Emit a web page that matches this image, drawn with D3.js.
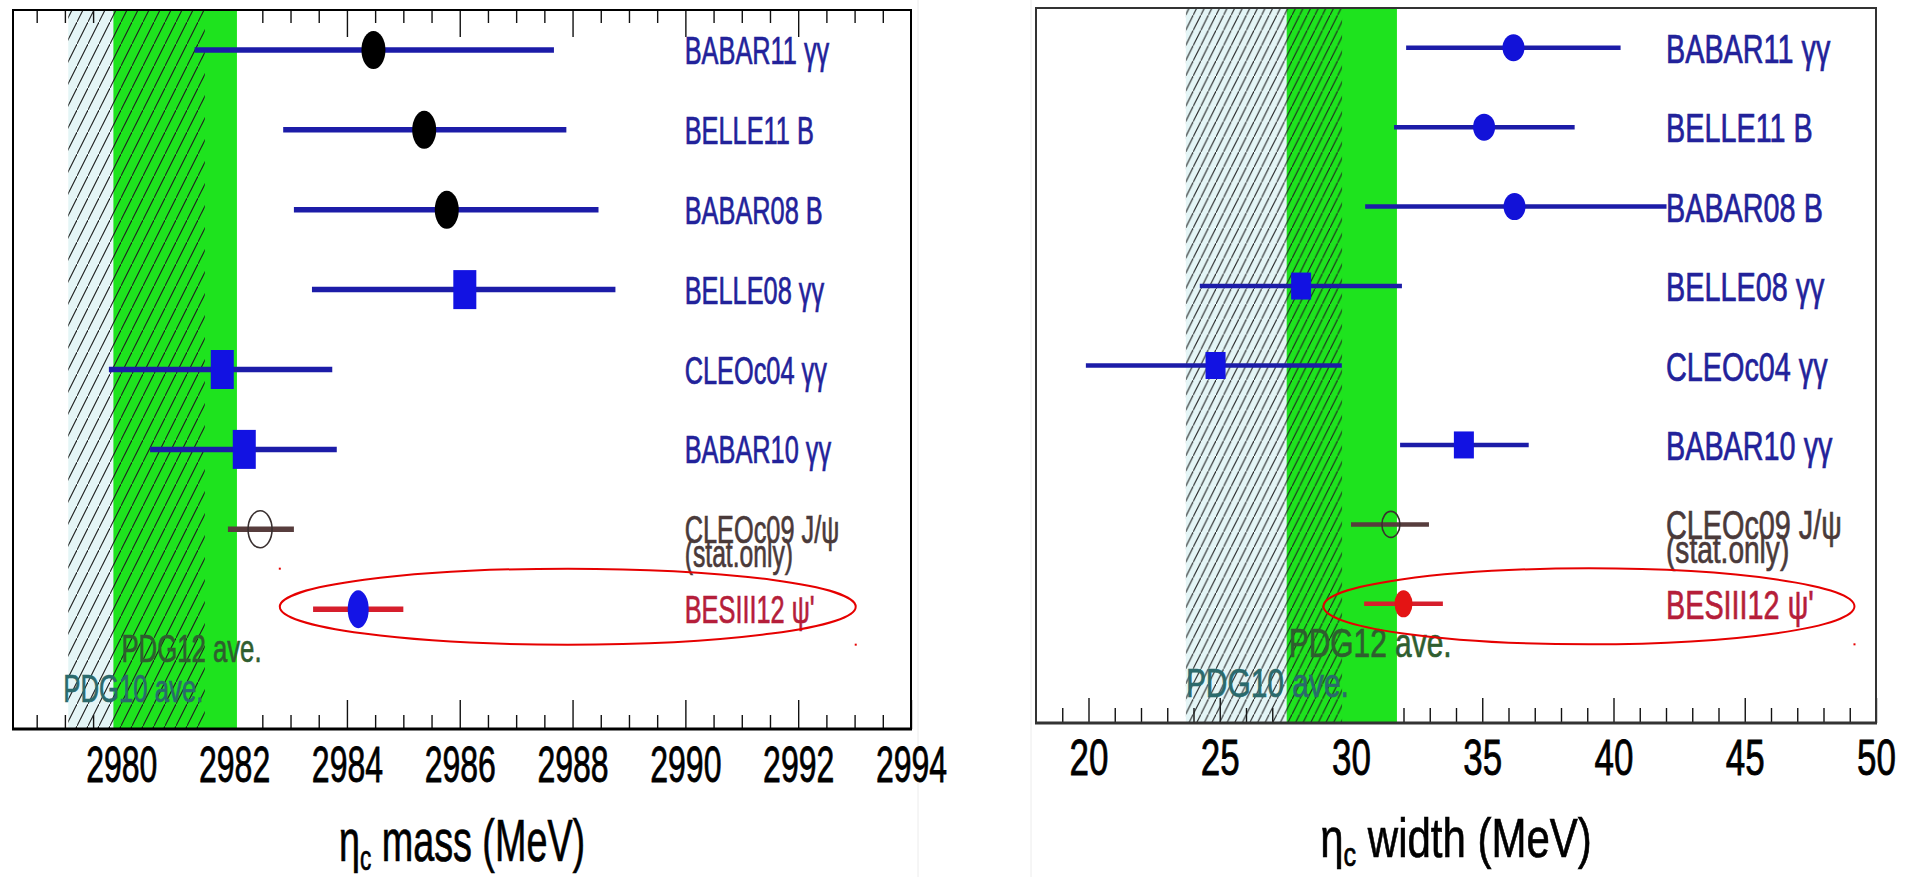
<!DOCTYPE html>
<html>
<head>
<meta charset="utf-8">
<script src="https://cdn.jsdelivr.net/npm/d3@7"></script>
<style>
  html, body { margin: 0; padding: 0; background: #fff; }
  svg { display: block; }
  text { font-family: "Liberation Sans", Arial, Helvetica, sans-serif; }
</style>
</head>
<body>
<svg id="chart" width="1910" height="877"></svg>
<script>
// ---- measurements (top row first) ----
const experiments = ["BABAR11 γγ", "BELLE11 B", "BABAR08 B", "BELLE08 γγ",
                     "CLEOc04 γγ", "BABAR10 γγ", "CLEOc09 J/ψ", "BESIII12 ψ'"];
const experimentNotes = ["", "", "", "", "", "", "(stat.only)", ""];
const markerKind = ["dot", "dot", "dot", "box", "box", "box", "open", "star"];

// eta_c mass (MeV): central value and error-bar ends
const massValue = [2984.47, 2985.37, 2985.77, 2986.09, 2981.79, 2982.18, 2982.46, 2984.2];
const massLow   = [2981.30, 2982.87, 2983.06, 2983.38, 2979.78, 2980.51, 2981.89, 2983.4];
const massHigh  = [2987.67, 2987.89, 2988.46, 2988.76, 2983.74, 2983.82, 2983.06, 2985.0];

// eta_c width (MeV)
const widthValue = [36.19, 35.07, 36.23, 28.10, 24.84, 34.30, 31.52, 32.0];
const widthLow   = [32.10, 31.64, 30.54, 24.24, 19.90, 31.87, 30.00, 30.5];
const widthHigh  = [40.27, 38.52, 42.02, 31.94, 29.65, 36.77, 32.97, 33.5];

// PDG averages (band ends)
const massPDG12  = [2979.86, 2982.05];
const massPDG10  = [2979.06, 2981.48];
const widthPDG12 = [27.55, 31.75];
const widthPDG10 = [23.71, 29.66];
const bandLabels = ["PDG12 ave.", "PDG10 ave."];

// axis ticks
const massMajorTicks  = [2980, 2982, 2984, 2986, 2988, 2990, 2992, 2994];
const massMinorTicks  = d3.range(2978.5, 2994.01, 0.5);
const widthMajorTicks = [20, 25, 30, 35, 40, 45, 50];
const widthMinorTicks = d3.range(19, 50.01, 1);

const massTitle  = ["η", "c", " mass (MeV)"];
const widthTitle = ["η", "c", " width (MeV)"];

// ---- styling ----
const C = {
  bar: "#1c1ca8", box: "#1212e2", label: "#22229a",
  cleoBar: "#573d3d", cleoLabel: "#4a3a3a",
  besBar: "#d61e2c", besLabel: "#b51e3a",
  green: "#1ee31e", hatchBg: "#e4f5f6", hatchLine: "#1e1e1e",
  pdg12: "#2f5e2f", pdg10: "#2b6a6c", ring: "#e60000"
};

const svg = d3.select("#chart");
const defs = svg.append("defs");
// diagonal hatching, one pattern per line spacing
function hatchPattern(id, w) {
  const h = 2 * w;
  const pat = defs.append("pattern").attr("id", id)
    .attr("patternUnits", "userSpaceOnUse").attr("width", w).attr("height", h);
  pat.append("path").attr("d", `M${-w / 4},${h + h / 4} L${w + w / 4},${-h / 4}`)
    .attr("stroke", C.hatchLine).attr("stroke-width", 1.05).attr("fill", "none");
}
hatchPattern("hatchL", 11);
hatchPattern("hatchR", 7.6);

// faint canvas edges
[918, 1031].forEach(xx => svg.append("line").attr("x1", xx).attr("x2", xx)
  .attr("y1", 0).attr("y2", 877).attr("stroke", "#ececec").attr("stroke-width", 1));

// condensed text, with a hairline outline in its own colour
function ctext(parent, x, y, k, size, color) {
  return parent.append("text")
    .attr("transform", `translate(${x},${y}) scale(${k},1)`)
    .style("font-size", size + "px")
    .attr("fill", color).attr("stroke", color).attr("stroke-width", 0.7);
}

const panels = [
  {
    x0: 13, x1: 911, top: 10, bottom: 729,
    domain: [2978.08, 2994],
    value: massValue, low: massLow, high: massHigh,
    pdg12: massPDG12, pdg10: massPDG10, hatch: "hatchL",
    major: massMajorTicks, minor: massMinorTicks,
    title: massTitle, titleY: 861, titleSize: 59, titleK: 0.64,
    tickLabelY: 53, tickSize: 50, tickK: 0.64,
    majorLen: 29, minorLen: 14, topTicks: true,
    barW: 5.5, dotFill: "#000", starFill: "#1414e6",
    dot: [12, 19], box: [23, 39], open: [12, 18.5], star: [10.5, 19],
    labelFrac: 0.748, labelDy: 14, labelSize: 39, labelK: 0.65,
    pdgSize: 39, pdgK: 0.66, pdg12Dx: 8, pdg12Dy: 67, pdg10Dx: -5, pdg10Dy: 27,
    ring: [2982.81, 2993.02], ringDy: -2.5, ringRy: 38, frameColor: "#000",
    cornerDots: true
  },
  {
    x0: 1036, x1: 1876, top: 8, bottom: 723,
    domain: [18, 50],
    value: widthValue, low: widthLow, high: widthHigh,
    pdg12: widthPDG12, pdg10: widthPDG10, hatch: "hatchR",
    major: widthMajorTicks, minor: widthMinorTicks,
    title: widthTitle, titleY: 857, titleSize: 56, titleK: 0.75,
    tickLabelY: 52, tickSize: 50, tickK: 0.7,
    majorLen: 25, minorLen: 15, topTicks: false,
    barW: 4.5, dotFill: "#1212d8", starFill: "#e41414",
    dot: [11, 13.5], box: [20, 27], open: [9, 13], star: [9, 13.5],
    labelFrac: 0.75, labelDy: 15, labelSize: 40, labelK: 0.72,
    pdgSize: 41, pdgK: 0.73, pdg12Dx: 2, pdg12Dy: 66, pdg10Dx: 0, pdg10Dy: 26,
    ring: [28.95, 49.18], ringDy: 2.5, ringRy: 38, frameColor: "#333",
    cornerDots: false
  }
];

panels.forEach(p => {
  const g = svg.append("g");
  const x = d3.scaleLinear().domain(p.domain).range([p.x0, p.x1]);
  const y = d3.scaleLinear().domain([0, 9]).range([p.bottom, p.top]);
  const rowY = i => y(8.5 - i);

  // PDG10 band background
  g.append("rect").attr("x", x(p.pdg10[0])).attr("width", x(p.pdg10[1]) - x(p.pdg10[0]))
    .attr("y", p.top).attr("height", p.bottom - p.top).attr("fill", C.hatchBg);

  // ticks
  const minorOnly = p.minor.filter(v => !p.major.some(m => Math.abs(m - v) < 1e-6));
  const styleAxis = sel => {
    sel.attr("font-family", null).attr("font-size", null);
    sel.select(".domain").remove();
    sel.selectAll("line").attr("stroke", "#111").attr("stroke-width", 1.4);
  };
  const ax = g.append("g").attr("transform", `translate(0,${p.bottom})`)
    .call(d3.axisBottom(x).tickValues(p.major).tickSize(-p.majorLen).tickFormat(d3.format("d")))
    .call(styleAxis);
  ax.selectAll("text").attr("y", p.tickLabelY).attr("dy", null)
    .attr("transform", `scale(${p.tickK},1)`).attr("fill", "#000")
    .attr("stroke", "#000").attr("stroke-width", 0.8)
    .style("font-size", p.tickSize + "px");
  g.append("g").attr("transform", `translate(0,${p.bottom})`)
    .call(d3.axisBottom(x).tickValues(minorOnly).tickSize(-p.minorLen).tickFormat(""))
    .call(styleAxis);
  if (p.topTicks) {
    g.append("g").attr("transform", `translate(0,${p.top})`)
      .call(d3.axisTop(x).tickValues(p.major.filter(v => v < p.domain[1])).tickSize(-27).tickFormat(""))
      .call(styleAxis);
    g.append("g").attr("transform", `translate(0,${p.top})`)
      .call(d3.axisTop(x).tickValues(minorOnly).tickSize(-13).tickFormat(""))
      .call(styleAxis);
  }

  // PDG12 band and PDG10 hatching
  g.append("rect").attr("x", x(p.pdg12[0])).attr("width", x(p.pdg12[1]) - x(p.pdg12[0]))
    .attr("y", p.top).attr("height", p.bottom - p.top).attr("fill", C.green);
  g.append("rect").attr("x", x(p.pdg10[0])).attr("width", x(p.pdg10[1]) - x(p.pdg10[0]))
    .attr("y", p.top).attr("height", p.bottom - p.top).attr("fill", `url(#${p.hatch})`);

  // band labels
  ctext(g, x(p.pdg12[0]) + p.pdg12Dx, p.bottom - p.pdg12Dy, p.pdgK, p.pdgSize, C.pdg12)
    .text(bandLabels[0]);
  ctext(g, x(p.pdg10[0]) + p.pdg10Dx, p.bottom - p.pdg10Dy, p.pdgK, p.pdgSize, C.pdg10)
    .text(bandLabels[1]);

  // error bars and markers
  experiments.forEach((name, i) => {
    const yy = rowY(i);
    const barColor = markerKind[i] === "open" ? C.cleoBar : markerKind[i] === "star" ? C.besBar : C.bar;
    g.append("line").attr("x1", x(p.low[i])).attr("x2", x(p.high[i]))
      .attr("y1", yy).attr("y2", yy).attr("stroke", barColor).attr("stroke-width", p.barW);
    const cx = x(p.value[i]);
    if (markerKind[i] === "box") {
      g.append("rect").attr("x", cx - p.box[0] / 2).attr("y", yy - p.box[1] / 2)
        .attr("width", p.box[0]).attr("height", p.box[1]).attr("fill", C.box);
    } else if (markerKind[i] === "open") {
      g.append("ellipse").attr("cx", cx).attr("cy", yy).attr("rx", p.open[0]).attr("ry", p.open[1])
        .attr("fill", "none").attr("stroke", "#3a3030").attr("stroke-width", 1.6);
    } else {
      const r = markerKind[i] === "star" ? p.star : p.dot;
      g.append("ellipse").attr("cx", cx).attr("cy", yy).attr("rx", r[0]).attr("ry", r[1])
        .attr("fill", markerKind[i] === "star" ? p.starFill : p.dotFill);
    }

    // row label (the note sits tight beneath it)
    const lx = p.x0 + p.labelFrac * (p.x1 - p.x0);
    const labColor = markerKind[i] === "open" ? C.cleoLabel : markerKind[i] === "star" ? C.besLabel : C.label;
    ctext(g, lx, yy + p.labelDy, p.labelK, p.labelSize, labColor).text(name);
    if (experimentNotes[i]) {
      ctext(g, lx, yy + p.labelDy + 24, p.labelK, p.labelSize - 1, labColor).text(experimentNotes[i]);
    }
  });

  // highlight ring round the BESIII entry
  const last = experiments.length - 1;
  const rx0 = x(p.ring[0]), rx1 = x(p.ring[1]);
  const cy = rowY(last) + p.ringDy;
  g.append("ellipse").attr("cx", (rx0 + rx1) / 2).attr("cy", cy)
    .attr("rx", (rx1 - rx0) / 2).attr("ry", p.ringRy)
    .attr("fill", "none").attr("stroke", C.ring).attr("stroke-width", 2);
  const dots = p.cornerDots ? [[rx0, cy - p.ringRy], [rx1, cy + p.ringRy]] : [[rx1, cy + p.ringRy]];
  dots.forEach(d => g.append("rect").attr("x", d[0] - 1).attr("y", d[1] - 1)
    .attr("width", 2).attr("height", 2).attr("fill", C.ring));

  // frame
  g.append("rect").attr("x", p.x0).attr("y", p.top).attr("width", p.x1 - p.x0)
    .attr("height", p.bottom - p.top).attr("fill", "none")
    .attr("stroke", p.frameColor).attr("stroke-width", 2);
  g.append("line").attr("x1", p.x0 - 1).attr("x2", p.x1 + 1).attr("y1", p.bottom).attr("y2", p.bottom)
    .attr("stroke", p.frameColor).attr("stroke-width", 3);

  // axis title
  const t = ctext(g, (p.x0 + p.x1) / 2, p.titleY, p.titleK, p.titleSize, "#000")
    .attr("text-anchor", "middle");
  t.append("tspan").text(p.title[0]);
  t.append("tspan").style("font-size", (p.titleSize * 0.6) + "px").attr("dy", p.titleSize * 0.16).text(p.title[1]);
  t.append("tspan").attr("dy", -p.titleSize * 0.16).text(p.title[2]);
});
</script>
</body>
</html>
